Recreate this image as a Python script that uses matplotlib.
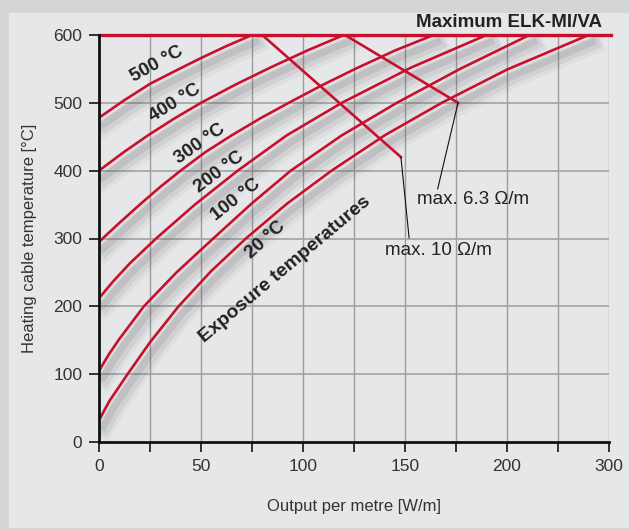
import matplotlib
matplotlib.use("Agg")
import matplotlib.pyplot as plt
import matplotlib.patheffects as pe
from matplotlib.patches import Rectangle

# heating cable temperature vs output per metre, one curve per exposure temperature
exposure = ["500 °C", "400 °C", "300 °C", "200 °C", "100 °C", "20 °C"]
out_500 = [0, 12, 25, 38, 50, 62, 75]
temp_500 = [478, 503, 528, 548, 566, 583, 600]
out_400 = [0, 12, 24, 37, 50, 67, 84, 102, 120]
temp_400 = [400, 427, 452, 477, 500, 527, 552, 577, 600]
out_300 = [0, 10, 20, 30, 40, 52, 65, 79, 93, 110, 127, 145, 164]
temp_300 = [295, 323, 350, 376, 400, 427, 452, 477, 500, 527, 552, 577, 600]
out_200 = [0, 7, 15, 28, 47, 68, 92, 119, 153, 190]
temp_200 = [212, 237, 263, 300, 350, 400, 452, 500, 552, 600]
out_100 = [0, 5, 10, 22, 38, 56, 75, 94, 119, 146, 177, 211]
temp_100 = [105, 130, 152, 200, 250, 300, 352, 400, 452, 500, 550, 600]
out_20 = [0, 5, 14, 25, 39, 55, 72, 92, 114, 140, 168, 200, 240]
temp_20 = [32, 60, 100, 147, 200, 252, 300, 351, 400, 452, 500, 549, 600]

# resistance limits
lim10_out = [80, 148]
lim10_temp = [600, 420]
lim63_out = [120.6, 176]
lim63_temp = [600, 500]
max_temp = 600

# x axis labels as printed (last one reads 300)
xtick_pos = [0, 50, 100, 150, 200, 250]
xtick_lab = ["0", "50", "100", "150", "200", "300"]
ytick_pos = [0, 100, 200, 300, 400, 500, 600]

red = "#c8102e"
txt = "#222222"
plt.rcParams["font.family"] = ["Liberation Sans", "DejaVu Sans"]

fig = plt.figure(figsize=(6.29, 5.29), dpi=100, facecolor="#d4d5d7")
fig.patches.append(Rectangle((9 / 629, 2 / 529), 1, (529 - 15) / 529,
                             transform=fig.transFigure, color="#e6e7e9", zorder=-1))
ax = fig.add_axes([99 / 629, 87 / 529, 510 / 629, 407 / 529])
ax.set_facecolor("#e6e7e9")

ax.set_xlim(0, 250)
ax.set_ylim(0, 600)

# grid
for gx in range(25, 251, 25):
    ax.axvline(gx, color="#9c9c9c", lw=1.0, zorder=1)
for gy in ytick_pos[1:-1]:
    ax.axhline(gy, color="#a2a2a2", lw=1.2, zorder=1)

shadow = [pe.SimpleLineShadow(offset=(4, -7), shadow_color="#555555", alpha=0.06, linewidth=13),
          pe.SimpleLineShadow(offset=(4, -6), shadow_color="#555555", alpha=0.09, linewidth=9),
          pe.SimpleLineShadow(offset=(3, -5), shadow_color="#555555", alpha=0.13, linewidth=5),
          pe.Normal()]

curves = [(out_500, temp_500), (out_400, temp_400), (out_300, temp_300),
          (out_200, temp_200), (out_100, temp_100), (out_20, temp_20)]
for xs, ys in curves:
    ax.plot(xs, ys, color=red, lw=1.9, solid_joinstyle="round", zorder=3,
            path_effects=shadow)

ax.plot(lim10_out, lim10_temp, color=red, lw=1.9, zorder=4)
ax.plot(lim63_out, lim63_temp, color=red, lw=1.9, zorder=4)
ax.plot([0, 251], [max_temp, max_temp], color=red, lw=2.4, zorder=5, clip_on=False)

# leader lines
ax.plot([148, 152], [420, 301], color="#111111", lw=0.8, zorder=4)
ax.plot([176, 166], [500, 373], color="#111111", lw=0.8, zorder=4)

# labels on curves
lab_pos = [(28.4, 557, 29), (37.3, 500, 32), (49.5, 440, 35),
           (59, 398, 37), (67, 357, 38), (81.5, 298, 42)]
for name, (lx, ly, rot) in zip(exposure, lab_pos):
    ax.text(lx, ly, name, rotation=rot, rotation_mode="anchor", ha="center", va="center",
            fontsize=13.5, fontweight="bold", color=txt, zorder=6)
ax.text(91.2, 255, "Exposure temperatures", rotation=40, rotation_mode="anchor",
        ha="center", va="center", fontsize=14, fontweight="bold", color=txt, zorder=6)

ax.text(140.2, 283, "max. 10 Ω/m", ha="left", va="center", fontsize=13.5, color=txt, zorder=6)
ax.text(155.9, 357, "max. 6.3 Ω/m", ha="left", va="center", fontsize=13.5, color=txt, zorder=6)
ax.text(246.5, 606, "Maximum ELK-MI/VA", ha="right", va="bottom", fontsize=13.5,
        fontweight="bold", color=txt, zorder=6)

# axes
for side in ["top", "right"]:
    ax.spines[side].set_visible(False)
for side in ["left", "bottom"]:
    ax.spines[side].set_linewidth(2)
    ax.spines[side].set_color("#111111")
    ax.spines[side].set_zorder(7)

ax.set_xticks(range(0, 251, 25), minor=True)
ax.set_xticks(xtick_pos)
ax.set_xticklabels(xtick_lab)
ax.set_yticks(ytick_pos)
ax.tick_params(axis="both", which="both", direction="out", length=7, width=1.3,
               color="#222222", labelsize=12.5, labelcolor="#333333", pad=5)

ax.set_xlabel("Output per metre [W/m]", fontsize=12, color="#333333", labelpad=18)
ax.set_ylabel("Heating cable temperature [°C]", fontsize=12, color="#333333", labelpad=12)

plt.savefig("out.png", dpi=100, facecolor=fig.get_facecolor())
